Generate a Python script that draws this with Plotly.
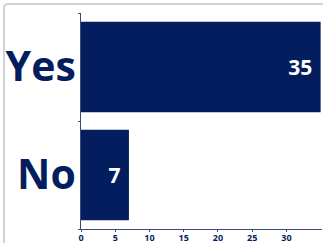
import plotly.graph_objects as go

categories = ["No", "Yes"]
values = [7, 35]
x_ticks = [0, 5, 10, 15, 20, 25, 30]

navy = "#041d5e"

fig = go.Figure(go.Bar(
    y=categories, x=values, orientation="h",
    marker=dict(color=navy, line=dict(width=0)),
    text=[str(v) + "\u00a0" for v in values], textposition="inside",
    insidetextanchor="end",
    textfont=dict(family="Open Sans", size=21, color="white", weight="bold"),
))

W, H = 323, 243
ml, mt, mr, mb = 81, 13, 1, 14
pw, ph = W - ml - mr, H - mt - mb

def px(x):
    return (x - ml) / pw

def py(y):
    return 1 - (y - mt) / ph

x0, y0 = px(4), py(4)
x1, y1 = px(400), py(300)
r = 4 / pw
ry = 4 / ph
path = (f"M {x0} {y1} L {x0} {y0 - ry} Q {x0} {y0} {x0 + r} {y0} L {x1} {y0}")

fig.update_layout(
    width=W, height=H,
    margin=dict(l=ml, r=mr, t=mt, b=mb),
    paper_bgcolor="white", plot_bgcolor="white",
    bargap=0.16, showlegend=False,
    uniformtext=dict(minsize=8, mode="show"),
    xaxis=dict(range=[0, 35.2], tickvals=x_ticks, showgrid=False, zeroline=False,
               automargin=False, ticklabelstandoff=-2,
               showline=True, linecolor="#3a4a78", linewidth=1,
               ticks="outside", ticklen=2, tickcolor="#3a4a78",
               tickfont=dict(family="Open Sans", size=9, color=navy, weight="bold")),
    yaxis=dict(showgrid=False, zeroline=False, showline=True, linecolor="#3a4a78",
               automargin=False, ticklabelstandoff=-4,
               linewidth=1, ticks="outside", ticklen=2, tickcolor="#3a4a78",
               tickson="boundaries",
               tickfont=dict(family="Open Sans", size=41, color=navy, weight="bold")),
    shapes=[dict(type="path", xref="paper", yref="paper", path=path,
                 line=dict(color="#cfd3d8", width=2))],
)

fig.write_html("out.html", config={"displayModeBar": False},
               post_script="document.body.style.margin='0';document.body.style.overflow='hidden';")
